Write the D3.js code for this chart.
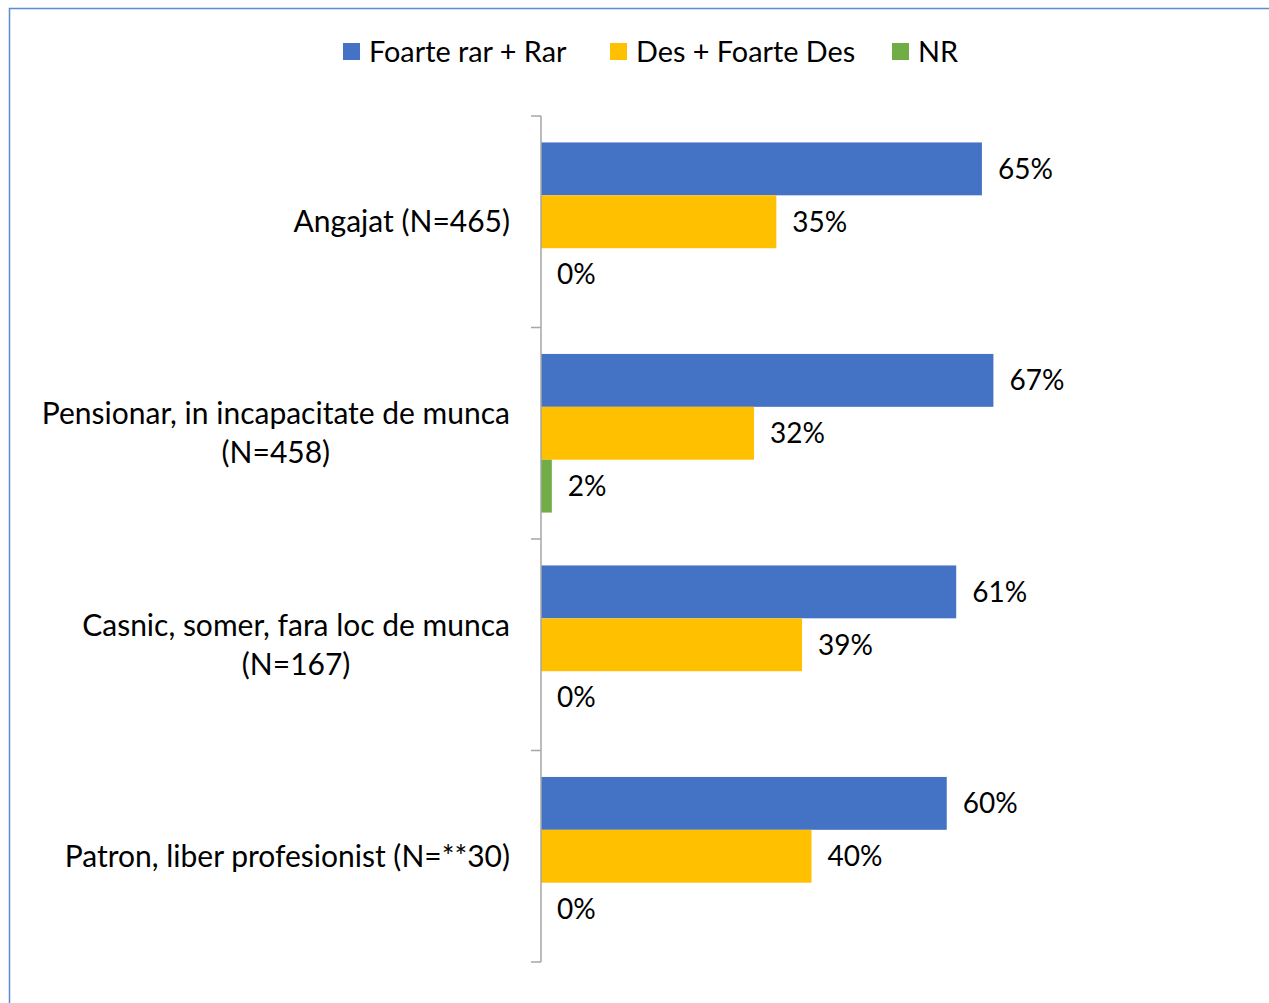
<!DOCTYPE html>
<html>
<head>
<meta charset="utf-8">
<script src="https://cdn.jsdelivr.net/npm/d3@7"></script>
<style>
  body { margin: 0; background: #fff; }
  text { font-family: Lato, "Open Sans", sans-serif; fill: #000; }
</style>
</head>
<body>
<div id="chart"></div>
<script>
const categories = [
  ["Angajat (N=465)"],
  ["Pensionar, in incapacitate de munca", "(N=458)"],
  ["Casnic, somer, fara loc de munca", "(N=167)"],
  ["Patron, liber profesionist (N=**30)"]
];
const seriesNames = ["Foarte rar + Rar", "Des + Foarte Des", "NR"];
const seriesColors = ["#4472C4", "#FFC000", "#70AD47"];
const rarValues = [65.2, 66.9, 61.4, 60.0];
const desValues = [34.8, 31.5, 38.6, 40.0];
const nrValues = [0, 1.6, 0, 0];

const values = [rarValues, desValues, nrValues];

const width = 1269, height = 1003;

const svg = d3.select("#chart")
  .append("svg")
  .attr("width", width)
  .attr("height", height);

// chart frame (only left and top visible)
svg.append("path")
  .attr("d", "M9.5," + height + "V8.5H" + width)
  .attr("fill", "none")
  .attr("stroke", "#5B8BD0")
  .attr("stroke-width", 1.5);

const y = d3.scaleBand()
  .domain(d3.range(categories.length))
  .range([116, 962]);

const y1 = d3.scaleBand()
  .domain(d3.range(seriesNames.length))
  .range([0, y.bandwidth()])
  .paddingOuter(0.5)
  .paddingInner(0);

const x = d3.scaleLinear()
  .domain([0, 80])
  .range([541, 1082]);

const groups = svg.append("g")
  .selectAll("g")
  .data(categories)
  .join("g")
  .attr("transform", (d, i) => `translate(0,${y(i)})`);

groups.each(function (cat, ci) {
  const g = d3.select(this);
  seriesNames.forEach((s, si) => {
    const v = values[si][ci];
    g.append("rect")
      .attr("x", x(0))
      .attr("y", y1(si))
      .attr("width", x(v) - x(0))
      .attr("height", y1.bandwidth())
      .attr("fill", seriesColors[si]);
    g.append("text")
      .attr("x", x(v) + 16)
      .attr("y", y1(si) + y1.bandwidth() / 2)
      .attr("dy", "0.35em")
      .attr("font-size", 28)
      .text(Math.round(v) + "%");
  });
  const lbl = g.append("text")
    .attr("font-size", 30)
    .attr("text-anchor", "middle");
  const lh = 39;
  const startY = y.bandwidth() / 2 - (cat.length - 1) * lh / 2;
  cat.forEach((line, li) => {
    lbl.append("tspan")
      .attr("y", startY + li * lh)
      .attr("dy", "0.35em")
      .text(line);
  });
  // right-align the block, center the lines
  const w = d3.max(lbl.selectAll("tspan").nodes(), n => n.getComputedTextLength());
  lbl.selectAll("tspan").attr("x", 510 - w / 2);
});

// category axis
const axis = svg.append("g")
  .attr("transform", `translate(${x(0)},0)`)
  .call(d3.axisLeft(y).tickValues([]).tickSizeOuter(0));
axis.select(".domain").remove();
axis.append("line")
  .attr("x1", 0).attr("x2", 0)
  .attr("y1", 116).attr("y2", 962)
  .attr("stroke", "#A6A6A6").attr("stroke-width", 1.5);
axis.selectAll(".sep")
  .data(d3.range(categories.length + 1))
  .join("line")
  .attr("class", "sep")
  .attr("x1", -10).attr("x2", 0)
  .attr("y1", d => d < categories.length ? y(d) : y(d - 1) + y.bandwidth())
  .attr("y2", d => d < categories.length ? y(d) : y(d - 1) + y.bandwidth())
  .attr("stroke", "#A6A6A6").attr("stroke-width", 1.5);

// legend
const legendX = [343, 610, 892];
const legend = svg.append("g")
  .selectAll("g")
  .data(seriesNames)
  .join("g")
  .attr("transform", (d, i) => `translate(${legendX[i]},43)`);
legend.append("rect")
  .attr("width", 17).attr("height", 17)
  .attr("fill", (d, i) => seriesColors[i]);
legend.append("text")
  .attr("x", 26).attr("y", 9)
  .attr("dy", "0.35em")
  .attr("font-size", 28.8)
  .text(d => d);
</script>
</body>
</html>
